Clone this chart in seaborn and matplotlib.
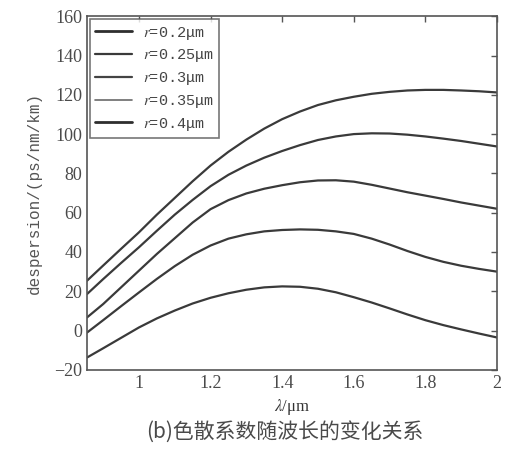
import numpy as np
import pandas as pd
import matplotlib
matplotlib.use("Agg")
import matplotlib.pyplot as plt
from matplotlib.lines import Line2D
import seaborn as sns

# wavelength in um
wavelength = [0.855, 0.9, 0.95, 1.0, 1.05, 1.1, 1.15, 1.2, 1.25, 1.3, 1.35, 1.4,
              1.45, 1.5, 1.55, 1.6, 1.65, 1.7, 1.75, 1.8, 1.85, 1.9, 1.95, 2.0]

# dispersion in ps/nm/km, one list per air hole radius
d_r02 = [-13.7, -9.0, -3.7, 1.6, 6.2, 10.2, 13.8, 16.7, 19.0, 20.8, 22.0, 22.5,
         22.3, 21.3, 19.5, 17.0, 14.3, 11.3, 8.2, 5.3, 2.8, 0.6, -1.5, -3.5]
d_r025 = [-1.0, 5.3, 12.4, 19.4, 26.3, 32.8, 38.6, 43.3, 46.8, 49.0, 50.5, 51.2,
          51.5, 51.3, 50.5, 49.2, 46.8, 43.8, 40.5, 37.5, 35.0, 33.0, 31.4, 30.0]
d_r03 = [6.7, 13.5, 22.0, 30.5, 39.0, 47.0, 55.0, 61.8, 66.4, 69.8, 72.2, 74.0,
         75.5, 76.4, 76.5, 75.8, 74.2, 72.3, 70.4, 68.7, 67.0, 65.2, 63.6, 62.0]
d_r035 = [18.6, 26.2, 34.4, 42.4, 50.8, 59.0, 66.5, 73.5, 79.3, 84.0, 88.0, 91.4,
          94.4, 97.0, 98.8, 100.0, 100.4, 100.3, 99.7, 98.8, 97.7, 96.5, 95.1, 93.7]
d_r04 = [25.4, 33.1, 41.6, 50.0, 59.0, 67.5, 76.0, 84.0, 91.0, 97.2, 102.8, 107.6,
         111.5, 114.8, 117.2, 119.0, 120.5, 121.5, 122.2, 122.5, 122.5, 122.2, 121.8, 121.2]

labels = ["$r$=0.2μm", "$r$=0.25μm", "$r$=0.3μm", "$r$=0.35μm", "$r$=0.4μm"]
series = [d_r02, d_r025, d_r03, d_r035, d_r04]

rows = []
for lab, vals in zip(labels, series):
    for x, y in zip(wavelength, vals):
        rows.append({"wl": x, "D": y, "r": lab})
df = pd.DataFrame(rows)

sns.set_style("white")
plt.rcParams["font.family"] = ["Liberation Serif", "DejaVu Sans"]
plt.rcParams["mathtext.fontset"] = "stix"

fig = plt.figure(figsize=(5.15, 4.5), dpi=100)
ax = fig.add_axes([0.169, 0.178, 0.796, 0.786])

colors = ["#2e2e2e", "#3a3a3a", "#444444", "#6a6a6a", "#2e2e2e"]
widths = [2.0, 1.6, 1.6, 1.2, 2.0]
sns.lineplot(data=df, x="wl", y="D", hue="r", palette=["#3a3a3a"] * 5, ax=ax, legend=False)
for line in ax.get_lines():
    line.set_linewidth(1.6)

ax.set_xlim(0.855, 2.0)
ax.set_ylim(-20, 160)
ax.set_xticks([1, 1.2, 1.4, 1.6, 1.8, 2])
ax.set_xticklabels(["1", "1.2", "1.4", "1.6", "1.8", "2"])
ax.set_yticks(range(-20, 161, 20))
ax.tick_params(direction="in", top=True, right=True, length=4, width=1,
               labelsize=13, colors="#555555", labelcolor="#4a4a4a")
for s in ax.spines.values():
    s.set_color("#555555")
    s.set_linewidth(1.2)

ax.set_ylabel("despersion/(ps/nm/km)", family="Liberation Mono", fontsize=11.5,
              color="#555555", labelpad=9)
ax.set_xlabel("$\\lambda$/μm", fontsize=12, color="#333333", labelpad=4)

handles = [Line2D([], [], color=c, lw=w) for c, w in zip(colors, widths)]
leg = ax.legend(handles, labels, loc="upper left", prop={"family": "Liberation Mono", "size": 11},
                frameon=True, fancybox=False, handlelength=2.4, handletextpad=0.7,
                labelspacing=0.38, borderaxespad=0.2, borderpad=0.35)
leg.get_frame().set_edgecolor("#555555")
leg.get_frame().set_linewidth(1.2)
for t in leg.get_texts():
    t.set_color("#444444")

fig.text(0.553, 0.04, "(b)色散系数随波长的变化关系", ha="center", va="center",
         fontsize=15, color="#4a4a4a", family=["Noto Sans CJK SC", "DejaVu Sans"])

fig.savefig("out.png", dpi=100, facecolor="white")
